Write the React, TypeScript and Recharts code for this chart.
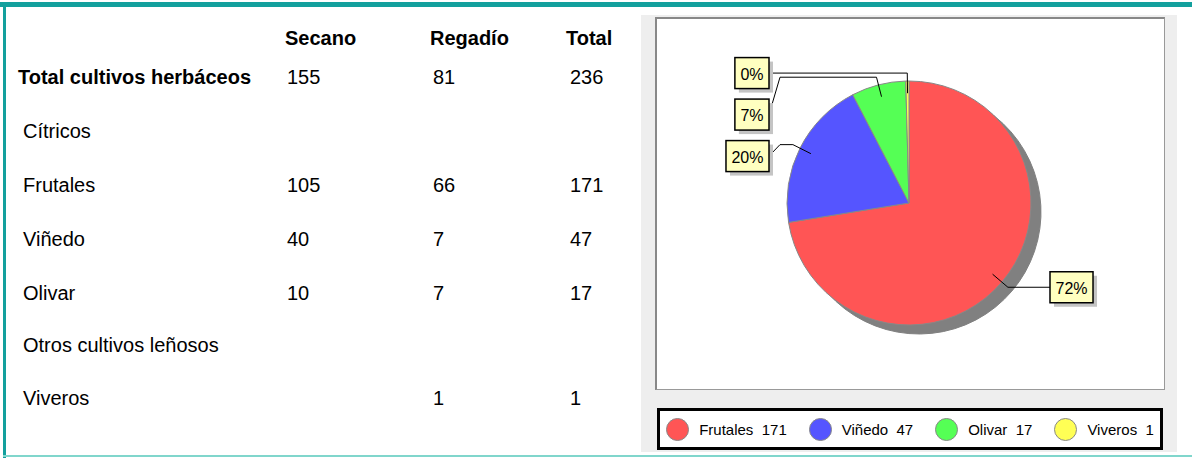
import React from "react";
import { Legend, Pie, PieChart, Cell } from "recharts";

const columnHeaders = ["Secano", "Regadío", "Total"];
const rowLabels = [
  "Total cultivos herbáceos",
  "Cítricos",
  "Frutales",
  "Viñedo",
  "Olivar",
  "Otros cultivos leñosos",
  "Viveros",
];
const secano: (number | null)[] = [155, null, 105, 40, 10, null, null];
const regadio: (number | null)[] = [81, null, 66, 7, 7, null, 1];
const totals: (number | null)[] = [236, null, 171, 47, 17, null, 1];

const pieLabels = ["Frutales", "Viñedo", "Olivar", "Viveros"];
const pieValues = [171, 47, 17, 1];
const pieColors = ["#ff5555", "#5555ff", "#55ff55", "#ffff55"];

const pieData = pieLabels.map((name, i) => ({ name, value: pieValues[i], color: pieColors[i] }));

const FONT = "'Liberation Sans', Arial, Helvetica, sans-serif";
const TEAL = "#13a09d";

// chart area sits over the grey panel
const PANEL = { left: 641, top: 15, width: 536, height: 437 };
const CX = 268;
const CY = 188;
const R = 122;
const START = 90;
const END = -270;

const LABEL_H = 31;
const LABEL_GAP = 41.5;
const BEND = 1.065;
const ANCHOR = 0.9;

// rough Arial widths for label text
function textWidth(s: string, size: number) {
  let w = 0;
  for (const ch of s) w += ch === "%" ? 0.889 : 0.556;
  return w * size;
}

// label box y positions, spreading boxes that would overlap
function layoutLabels(cx: number, cy: number, r: number) {
  const total = pieValues.reduce((a, b) => a + b, 0);
  let cum = 0;
  const items = pieValues.map((v, i) => {
    const mid = START - (360 * (cum + v / 2)) / total;
    cum += v;
    const rad = (mid * Math.PI) / 180;
    return { i, right: Math.cos(rad) >= 0, y: cy - BEND * r * Math.sin(rad) };
  });
  const out: number[] = [];
  for (const side of [true, false]) {
    const list = items.filter((d) => d.right === side).sort((a, b) => a.y - b.y);
    let prev = -Infinity;
    for (const d of list) {
      const y = Math.max(d.y, prev + LABEL_GAP);
      out[d.i] = y;
      prev = y;
    }
  }
  return out;
}

function renderLabel(props: any) {
  const { cx, cy, midAngle, outerRadius, percent, index } = props;
  const rad = (midAngle * Math.PI) / 180;
  const ax = cx + ANCHOR * outerRadius * Math.cos(rad);
  const ay = cy - ANCHOR * outerRadius * Math.sin(rad);
  const bx = cx + BEND * outerRadius * Math.cos(rad);
  const by = cy - BEND * outerRadius * Math.sin(rad);
  const right = Math.cos(rad) >= 0;
  const boxY = layoutLabels(cx, cy, outerRadius)[index];
  const text = `${Math.round(percent * 100)}%`;
  const w = textWidth(text, 16) + 11;
  const edge = right ? cx + outerRadius + 19 : cx - outerRadius - 18;
  const boxX = right ? edge : edge - w;
  const knee = right ? edge - 11 : edge + 11;
  return (
    <g key={`lbl-${index}`}>
      <polyline
        points={`${ax},${ay} ${bx},${by} ${knee},${by} ${edge},${boxY}`}
        fill="none"
        stroke="#000"
        strokeWidth={1}
      />
      <rect x={boxX + 4} y={boxY - LABEL_H / 2 + 4} width={w} height={LABEL_H} fill="#c4c4c4" />
      <rect x={boxX} y={boxY - LABEL_H / 2} width={w} height={LABEL_H} fill="#ffffc0" stroke="#000" strokeWidth={1.5} />
      <text
        x={boxX + w / 2}
        y={boxY + 1}
        textAnchor="middle"
        dominantBaseline="central"
        fontSize={16}
        fontFamily={FONT}
        fill="#000"
      >
        {text}
      </text>
    </g>
  );
}

function LegendBox() {
  return (
    <div
      style={{
        boxSizing: "border-box",
        width: 506,
        height: 42,
        border: "3px solid #000",
        background: "#fff",
        display: "flex",
        alignItems: "center",
        justifyContent: "center",
        fontFamily: FONT,
        fontSize: 15,
        color: "#000",
      }}
    >
      {pieData.map((d, i) => (
        <div key={d.name} style={{ display: "flex", alignItems: "center", marginLeft: i === 0 ? 0 : 22 }}>
          <span
            style={{
              display: "inline-block",
              width: 21,
              height: 21,
              borderRadius: "50%",
              background: d.color,
              border: "1px solid #888",
              marginRight: 10,
            }}
          />
          <span style={{ whiteSpace: "pre" }}>{`${d.name}  ${d.value}`}</span>
        </div>
      ))}
    </div>
  );
}

const ROW_Y = [77, 131, 185, 239, 293, 345, 398];
const COL_X = [287, 433, 570];
const HEAD_X = [285, 430, 566];

export default function App() {
  const cellStyle = (x: number, y: number, bold = false): React.CSSProperties => ({
    position: "absolute",
    left: x,
    top: y - 12,
    lineHeight: "24px",
    fontSize: 20,
    fontWeight: bold ? 700 : 400,
    fontFamily: FONT,
    color: "#000",
    whiteSpace: "nowrap",
  });
  const cols = [secano, regadio, totals];

  return (
    <div style={{ position: "absolute", left: 0, top: 0, width: 1192, height: 459, background: "#fff", overflow: "hidden" }}>
      <div style={{ position: "absolute", left: 0, top: 2, width: 1192, height: 5, background: TEAL }} />
      <div style={{ position: "absolute", left: 3, top: 2, width: 3, height: 456, background: TEAL }} />
      <div style={{ position: "absolute", left: 3, top: 455, width: 1189, height: 2, background: "#80d6cc" }} />

      {columnHeaders.map((h, i) => (
        <div key={h} style={cellStyle(HEAD_X[i], 38, true)}>
          {h}
        </div>
      ))}
      {rowLabels.map((label, r) => (
        <React.Fragment key={label}>
          <div style={cellStyle(r === 0 ? 18 : 23, ROW_Y[r], r === 0)}>{label}</div>
          {cols.map((col, c) =>
            col[r] == null ? null : (
              <div key={c} style={cellStyle(COL_X[c], ROW_Y[r])}>
                {col[r]}
              </div>
            )
          )}
        </React.Fragment>
      ))}

      <div style={{ position: "absolute", left: PANEL.left, top: PANEL.top, width: PANEL.width, height: PANEL.height, background: "#eeeeee" }} />
      <div
        style={{
          position: "absolute",
          left: 655,
          top: 17,
          width: 510,
          height: 373,
          boxSizing: "border-box",
          background: "#fff",
          borderLeft: "2px solid #888",
          borderTop: "2px solid #888",
          borderRight: "1px solid #999",
          borderBottom: "1px solid #999",
        }}
      />
      <div style={{ position: "absolute", left: PANEL.left, top: PANEL.top }}>
        <PieChart width={PANEL.width} height={PANEL.height} margin={{ top: 0, right: 0, bottom: 0, left: 0 }}>
          <Pie
            data={pieData}
            dataKey="value"
            nameKey="name"
            cx={CX + 10}
            cy={CY + 9}
            outerRadius={R}
            startAngle={START}
            endAngle={END}
            fill="#808080"
            stroke="#808080"
            legendType="none"
            isAnimationActive={false}
          />
          <Pie
            data={pieData}
            dataKey="value"
            nameKey="name"
            cx={CX}
            cy={CY}
            outerRadius={R}
            startAngle={START}
            endAngle={END}
            stroke="#888"
            strokeWidth={1}
            label={renderLabel}
            labelLine={false}
            isAnimationActive={false}
          >
            {pieData.map((d) => (
              <Cell key={d.name} fill={d.color} />
            ))}
          </Pie>
          <Legend
            content={() => <LegendBox />}
            wrapperStyle={{ position: "absolute", left: 16, top: 393, width: 506, height: 42 }}
          />
        </PieChart>
      </div>
    </div>
  );
}
